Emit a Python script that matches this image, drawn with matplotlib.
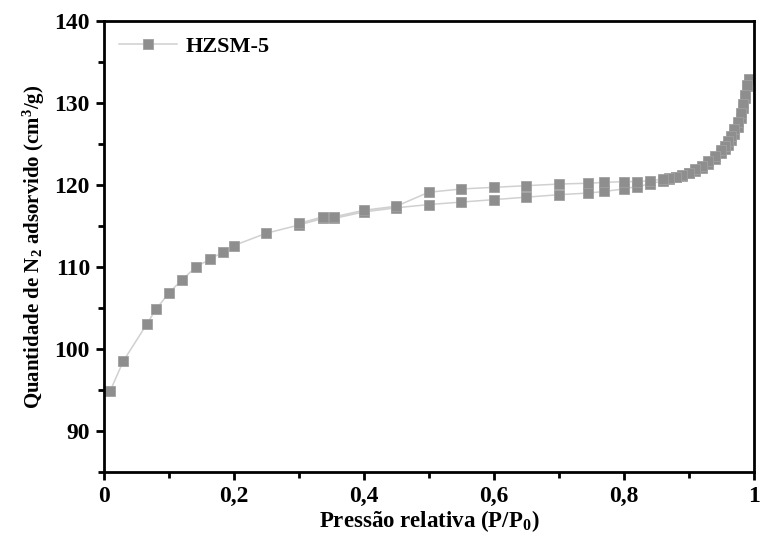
import matplotlib
matplotlib.use("Agg")
import matplotlib.pyplot as plt
from matplotlib.ticker import MultipleLocator, FuncFormatter

plt.rcParams["font.family"] = ["Liberation Serif", "DejaVu Serif"]
plt.rcParams["font.weight"] = "bold"
plt.rcParams["mathtext.fontset"] = "custom"
plt.rcParams["mathtext.rm"] = "Liberation Serif:bold"
plt.rcParams["mathtext.it"] = "Liberation Serif:bold"
plt.rcParams["mathtext.bf"] = "Liberation Serif:bold"
plt.rcParams["mathtext.default"] = "rm"

# Adsorption branch (P/P0, cm3/g)
p_ads = [0.01, 0.03, 0.066, 0.081, 0.10, 0.12, 0.142, 0.163, 0.183, 0.20,
         0.25, 0.30, 0.337, 0.354, 0.40, 0.45, 0.50, 0.55, 0.60, 0.65,
         0.70, 0.745, 0.77, 0.80, 0.82, 0.84, 0.86, 0.87, 0.88, 0.89,
         0.90, 0.91, 0.92, 0.93, 0.94, 0.95, 0.955, 0.96, 0.965, 0.97,
         0.975, 0.98, 0.984, 0.987, 0.99, 0.992]
v_ads = [94.9, 98.5, 103.0, 104.9, 106.8, 108.4, 110.0, 110.9, 111.8, 112.6,
         114.1, 115.1, 115.9, 115.9, 116.7, 117.2, 117.6, 117.9, 118.2, 118.5,
         118.8, 119.0, 119.2, 119.5, 119.8, 120.1, 120.5, 120.7, 120.9, 121.1,
         121.4, 121.7, 122.1, 122.6, 123.2, 123.9, 124.4, 124.9, 125.5, 126.2,
         127.1, 128.2, 129.4, 130.6, 132.0, 132.8]

# Desorption branch
p_des = [0.992, 0.99, 0.987, 0.984, 0.98, 0.975, 0.97, 0.965, 0.96, 0.955,
         0.95, 0.94, 0.93, 0.92, 0.91, 0.90, 0.89, 0.88, 0.87, 0.86,
         0.84, 0.82, 0.80, 0.77, 0.745, 0.70, 0.65, 0.60, 0.55, 0.50,
         0.45, 0.40, 0.354, 0.337, 0.30]
v_des = [132.9, 132.2, 131.0, 129.9, 128.8, 127.7, 126.8, 126.0, 125.3, 124.8,
         124.3, 123.5, 122.9, 122.3, 121.9, 121.5, 121.2, 121.0, 120.8, 120.7,
         120.5, 120.4, 120.4, 120.3, 120.2, 120.1, 119.9, 119.7, 119.5, 119.1,
         117.4, 116.9, 116.1, 116.1, 115.3]

p_all = p_ads + p_des
v_all = v_ads + v_des

fig = plt.figure(figsize=(7.63, 5.35), dpi=100)
ax = fig.add_axes([0.136, 0.118, 0.852, 0.843])

ax.plot(p_all, v_all, color="#d0d0d0", lw=1.1, marker="s", ms=7.5,
        mfc="#8e8e8e", mec="#a0a0a0", mew=0.6, label="HZSM-5")

ax.set_xlim(0, 1)
ax.set_ylim(85, 140)
ax.xaxis.set_major_locator(MultipleLocator(0.2))
ax.xaxis.set_minor_locator(MultipleLocator(0.1))
ax.yaxis.set_major_locator(MultipleLocator(10))
ax.yaxis.set_minor_locator(MultipleLocator(5))


def fmt_x(v, pos):
    if abs(v) < 1e-9:
        return "0"
    if abs(v - 1) < 1e-9:
        return "1"
    return ("%.1f" % v).replace(".", ",")


ax.xaxis.set_major_formatter(FuncFormatter(fmt_x))
ax.yaxis.set_major_formatter(FuncFormatter(lambda v, p: "%d" % v))

for s in ax.spines.values():
    s.set_linewidth(2)
ax.tick_params(which="major", direction="out", length=6, width=2, labelsize=17, pad=4)
ax.tick_params(which="minor", direction="out", length=4, width=2)
ax.tick_params(top=False, right=False)
for lab in ax.get_xticklabels() + ax.get_yticklabels():
    lab.set_fontweight("bold")

ax.set_xlabel("Pressão relativa (P/P$_0$)", fontsize=16.5, fontweight="bold", labelpad=1)
ax.set_ylabel("Quantidade de N$_2$ adsorvido (cm$^3$/g)", fontsize=15,
              fontweight="bold", labelpad=5)

leg = ax.legend(loc="upper left", frameon=False, fontsize=16,
                handlelength=2.6, borderaxespad=0.3, handletextpad=0.4)
for t in leg.get_texts():
    t.set_fontweight("bold")

fig.savefig("out.png", dpi=100)
